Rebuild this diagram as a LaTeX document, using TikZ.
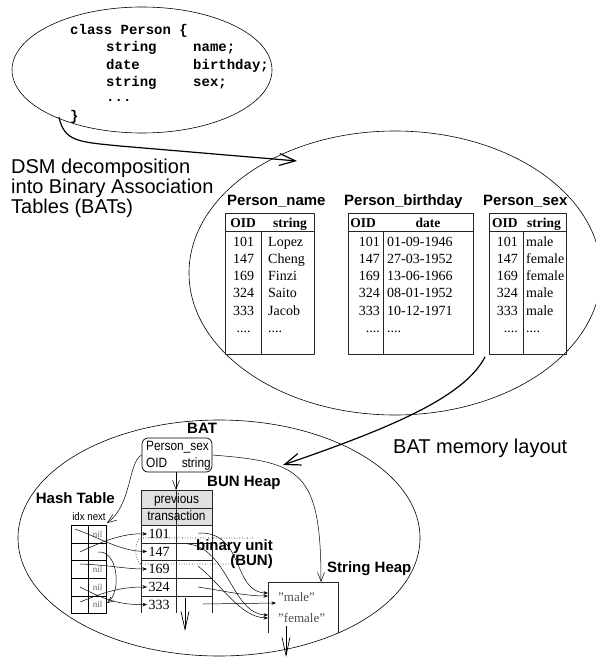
\documentclass[tikz,border=0pt]{standalone}
\usepackage{fontspec}
\setmainfont{Liberation Serif}
\setsansfont{Liberation Sans}
\setmonofont{Liberation Mono}
\newfontfamily\narrowsf[FakeStretch=0.88]{Liberation Sans}
\usetikzlibrary{arrows.meta,shapes.geometric}
\newcommand{\fourdots}{....}
\newcommand{\sq}{\symbol{34}}
\tikzset{
 ell/.style={draw, ellipse, inner sep=0, line width=0.6pt},
 code/.style={font=\ttfamily\bfseries\fontsize{14}{16}\selectfont, anchor=base west, inner sep=0},
 big/.style={font=\sffamily\fontsize{20}{20}\selectfont, anchor=base west, inner sep=0},
 title/.style={font=\sffamily\bfseries\fontsize{15}{15}\selectfont, anchor=base west, inner sep=0},
 hdr/.style={font=\bfseries\fontsize{13.5}{14}\selectfont, anchor=base, inner sep=0},
 val/.style={font=\fontsize{14}{14}\selectfont, inner sep=0},
 tbl/.style={line width=0.9pt, draw=black!85},
 nar/.style={font=\narrowsf\fontsize{13.5}{14}\selectfont, inner sep=0},
 nilt/.style={font=\fontsize{9}{9}\selectfont, text=black!60, inner sep=0, anchor=base},
 strv/.style={font=\fontsize{13}{13}\selectfont, text=black!70, inner sep=0, anchor=base west},
 thinarr/.style={line width=0.5pt, -{Straight Barb[length=9pt,width=7pt]}},
 ptr/.style={line width=0.5pt, -{Stealth[length=4.5pt,width=3.5pt]}},
 bigarr/.style={line width=1.2pt, -{Straight Barb[length=16pt,width=12pt]}},
 downarr/.style={line width=0.7pt, -{Straight Barb[length=18pt,width=8pt]}},
}
\begin{document}
\begin{tikzpicture}[x=1pt,y=-1pt,line join=round]
\useasboundingbox (0,0) rectangle (595,658);

% ---------- class ellipse ----------
\node[ell, minimum width=260pt, minimum height=126pt] (classell) at (142,70) {};
\node[code] (l1) at (70,35) {class Person \{};
\node[code] (l2a) at (106,52) {string};
\node[code] (l2b) at (193,52) {name;};
\node[code] (l3a) at (106,69.5) {date};
\node[code] (l3b) at (193,69.5) {birthday;};
\node[code] (l4a) at (106,87) {string};
\node[code] (l4b) at (193,87) {sex;};
\node[code] (l5) at (106,102) {...};
\node[code] (l6) at (70,121) {\}};

% ---------- DSM arrow ----------
\coordinate (a1s) at (59,117);
\coordinate (a1m) at (120,146);
\coordinate (a1e) at (297,161);
\draw[bigarr] (a1s) .. controls (64,142) and (80,142) .. (a1m) -- (a1e);
\node[big] (dsm1) at (11,173) {DSM decomposition};
\node[big] (dsm2) at (11,193) {into Binary Association};
\node[big] (dsm3) at (11,213) {Tables (BATs)};

% ---------- BAT ellipse ----------
\node[ell, minimum width=412pt, minimum height=284pt] (batell) at (395,273) {};

\node[title] (t1) at (227,205) {Person\_name};
\node[title] (t2) at (344,205) {Person\_birthday};
\node[title] (t3) at (483,205) {Person\_sex};

% table 1
\draw[tbl] (225,213) rectangle (314,354);
\draw[tbl] (225,231) -- (314,231);
\draw[tbl] (261,231) -- (261,354);
\node[hdr] (h1a) at (243,227) {OID};
\node[hdr] (h1b) at (290,227) {string};
\foreach \o/\v [count=\i] in {101/Lopez,147/Cheng,169/Finzi,324/Saito,333/Jacob,\fourdots/\fourdots}{
  \node[val, anchor=base] at (243.5,{229+17.2*\i}) {\o};
  \node[val, anchor=base west] at (268,{229+17.2*\i}) {\v};
}
% table 2
\draw[tbl] (348,213) rectangle (473,354);
\draw[tbl] (348,231) -- (473,231);
\draw[tbl] (383,231) -- (383,354);
\node[hdr] (h2a) at (363,227) {OID};
\node[hdr] (h2b) at (428,227) {date};
\foreach \o/\v [count=\i] in {101/01-09-1946,147/27-03-1952,169/13-06-1966,324/08-01-1952,333/10-12-1971,\fourdots/\fourdots}{
  \node[val, anchor=base east] at (380,{229+17.2*\i}) {\o};
  \node[val, anchor=base west] at (387,{229+17.2*\i}) {\v};
}
% table 3
\draw[tbl] (489,213) rectangle (566,354);
\draw[tbl] (489,231) -- (566,231);
\draw[tbl] (523,231) -- (523,354);
\node[hdr, anchor=base west] (h3a) at (492,227) {OID};
\node[hdr, anchor=base west] (h3b) at (527,227) {string};
\foreach \o/\v [count=\i] in {101/male,147/female,169/female,324/male,333/male,\fourdots/\fourdots}{
  \node[val, anchor=base east] at (518,{229+17.2*\i}) {\o};
  \node[val, anchor=base west] at (526,{229+17.2*\i}) {\v};
}

% ---------- memory layout arrow ----------
\coordinate (a2s) at (485,357);
\coordinate (a2e) at (283,465);
\draw[bigarr] (a2s) .. controls (465,395) and (400,425) .. (a2e);
\node[big] (bml) at (393,453) {BAT memory layout};

% ---------- memory ellipse ----------
\node[ell, minimum width=402pt, minimum height=236pt] (memell) at (219,538) {};

% BAT descriptor
\node[title] (batl) at (187,433) {BAT};
\node[draw, line width=0.7pt, rounded corners=6pt, minimum width=70pt, minimum height=34pt, inner sep=0] (bat) at (177,455) {};
\node[nar, anchor=base west] (bps) at (146,450) {Person\_sex};
\node[nar, anchor=base west] (boid) at (146,467.5) {OID};
\node[nar, anchor=base east] (bstr) at (211,467.5) {string};

% BUN heap
\node[title] (bunl) at (207,486) {BUN Heap};
\fill[black!12] (141,490) rectangle (212,525);
\draw[tbl, line width=0.7pt] (141,490) rectangle (212,508);
\draw[tbl, line width=0.7pt] (141,508) rectangle (212,525);
\draw[tbl, line width=0.7pt] (141,490) -- (141,613);
\draw[tbl, line width=0.7pt] (212,490) -- (212,613);
\foreach \yy in {543,560,578,596}{ \draw[tbl, line width=0.7pt] (141,\yy) -- (212,\yy); }
\coordinate (bunTop) at (176,490);
\coordinate (batBot) at (176,472);
\draw[thinarr] (batBot) -- (bunTop);
\draw[tbl, line width=0.7pt] (bunTop) -- (176,613);
\node[nar, anchor=base] (prev) at (176.5,503) {previous};
\node[nar, anchor=base] (trans) at (176.5,520.5) {transaction};
\foreach \n/\yy [count=\i] in {101/534,147/551.5,169/569,324/587,333/604.5}{
  \node[val, anchor=base west] (b\i) at (148.5,{\yy+4.6}) {\n};
  \coordinate (bt\i) at (147,\yy);
}
% binary unit
\draw[dotted, line width=0.6pt] (253,538) -- (141,538) .. controls (134,540) and (134,562) .. (141,564) -- (263,564);
\node[title, anchor=base east] (bu1) at (273,550) {binary unit};
\node[title, anchor=base east] (bu2) at (273,565.5) {(BUN)};

% hash table
\node[title, anchor=base east] (htl) at (115,503) {Hash Table};
\node[nar, font=\narrowsf\fontsize{11}{11}\selectfont, anchor=base] (idx) at (89,520) {idx next};
\draw[line width=0.6pt] (71,525) rectangle (106,613);
\draw[line width=0.6pt] (88,525) -- (88,613);
\foreach \yy in {543,560,578,596}{ \draw[line width=0.6pt] (71,\yy) -- (106,\yy); }
\foreach \yy in {534,569,587,604.5}{ \node[nilt] at (97.5,{\yy+3}) {nil}; }
\coordinate (hts) at (107,523);
\draw[thinarr] (bat.west) .. controls (128,462) and (132,505) .. (hts);
\coordinate (hi1) at (75,529);
\coordinate (hi2) at (80,552);
\coordinate (hi3) at (80,564);
\coordinate (hi4) at (80,587);
\coordinate (hi5) at (80,602);
\draw[ptr] (hi1) .. controls (100,538) and (120,551) .. (bt2);
\draw[ptr] (hi2) .. controls (105,540) and (125,533) .. (bt1);
\draw[ptr] (hi3) .. controls (110,565) and (125,569) .. (bt3);
\draw[ptr] (hi4) .. controls (105,600) and (120,605) .. (bt5);
\draw[ptr] (hi5) .. controls (105,592) and (120,587) .. (bt4);
\coordinate (hn2) at (98,552);
\coordinate (hn5) at (107,603);
\draw[line width=0.5pt, -{Straight Barb[length=6pt,width=5pt]}] (hn2) .. controls (118,550) and (122,592) .. (hn5);

% string heap
\node[title] (shl) at (327,572) {String Heap};
\draw[tbl, line width=0.7pt] (268,633) -- (268,582) -- (338,582) -- (338,633);
\coordinate (shTop) at (321,582);
\draw[thinarr] (bat.east) .. controls (300,462) and (321,470) .. (shTop);
\node[strv] (smale) at (278,601) {\sq male\sq};
\node[strv] (sfem) at (278,622) {\sq female\sq};
\coordinate (r1) at (198,533);
\coordinate (r2) at (188,544);
\coordinate (r3) at (198,566);
\coordinate (r4) at (198,587);
\coordinate (r5) at (203,604);
\coordinate (m1) at (268,593);
\coordinate (f1) at (268,615);
\coordinate (f2) at (268,618);
\coordinate (m2) at (268,596);
\coordinate (m3) at (276,603);
\draw[ptr] (r1) .. controls (245,531) and (232,592) .. (m1);
\draw[ptr] (r2) .. controls (228,548) and (232,614) .. (f1);
\draw[ptr] (r3) .. controls (222,585) and (240,617) .. (f2);
\draw[ptr] (r4) .. controls (225,591) and (245,596) .. (m2);
\draw[ptr] (r5) -- (m3);

% growth arrows
\coordinate (bunD1) at (185,598);
\coordinate (bunD2) at (185,631);
\draw[downarr] (bunD1) -- (bunD2);
\coordinate (shD1) at (286,626);
\coordinate (shD2) at (286,657);
\draw[downarr] (shD1) -- (shD2);
\end{tikzpicture}
\end{document}
